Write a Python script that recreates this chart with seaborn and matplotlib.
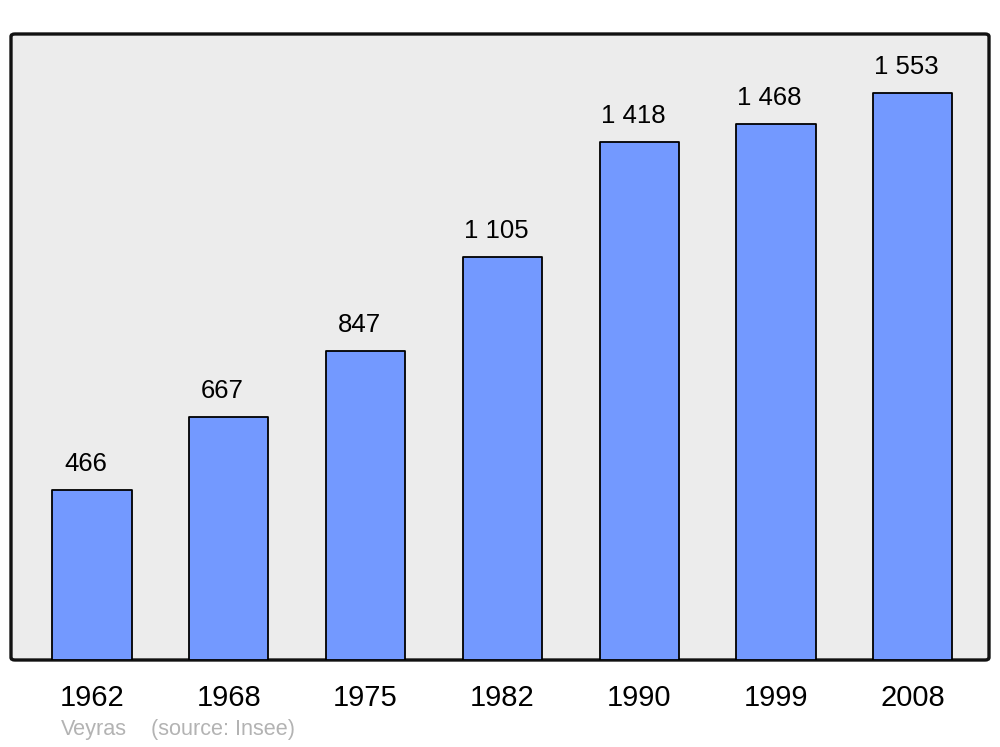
import matplotlib
matplotlib.use("Agg")
import matplotlib.pyplot as plt
from matplotlib.patches import FancyBboxPatch
import seaborn as sns
import pandas as pd

years = ["1962", "1968", "1975", "1982", "1990", "1999", "2008"]
population = [466, 667, 847, 1105, 1418, 1468, 1553]
value_labels = ["466", "667", "847", "1 105", "1 418", "1 468", "1 553"]
commune = "Veyras"
source = "(source: Insee)"

sns.set_theme(style="white")
plt.rcParams["font.family"] = ["Liberation Sans", "DejaVu Sans"]

df = pd.DataFrame({"year": years, "pop": population})

fig = plt.figure(figsize=(10, 7.47), dpi=100)
ax = fig.add_axes([11/1000, (747-660)/747, (989-11)/1000, (660-34)/747])

sns.barplot(data=df, x="year", y="pop", color="#7399ff", saturation=1,
            width=0.58, edgecolor="black", linewidth=1.3, ax=ax, zorder=2)
for p in ax.patches:
    p.set_joinstyle("round")

ax.set_ylim(0, 1715)
ax.set_xlim(-0.592, 6.557)

ax.patch.set_visible(False)
for s in ax.spines.values():
    s.set_visible(False)
frame = FancyBboxPatch((0, 0), 1, 1, boxstyle="round,pad=0,rounding_size=0.004",
                       transform=ax.transAxes, facecolor="#ececec",
                       edgecolor="#111111", linewidth=2.4, zorder=0, clip_on=False)
ax.add_patch(frame)

for i, (v, lab) in enumerate(zip(population, value_labels)):
    ax.annotate(lab, (i, v), xytext=(-4.5, 13.7), textcoords="offset points",
                ha="center", va="baseline", fontsize=18.5, color="black")

ax.set_xlabel("")
ax.set_ylabel("")
ax.set_yticks([])
ax.tick_params(axis="x", length=0, pad=17.5, labelsize=21, labelcolor="black")

fig.text(61/1000, 1 - 730/747, commune, color="#b3b3b3", fontsize=15.6, va="center", ha="left")
fig.text(151/1000, 1 - 730/747, source, color="#b3b3b3", fontsize=15.6, va="center", ha="left")

fig.savefig("out.png", dpi=100, facecolor="white")
